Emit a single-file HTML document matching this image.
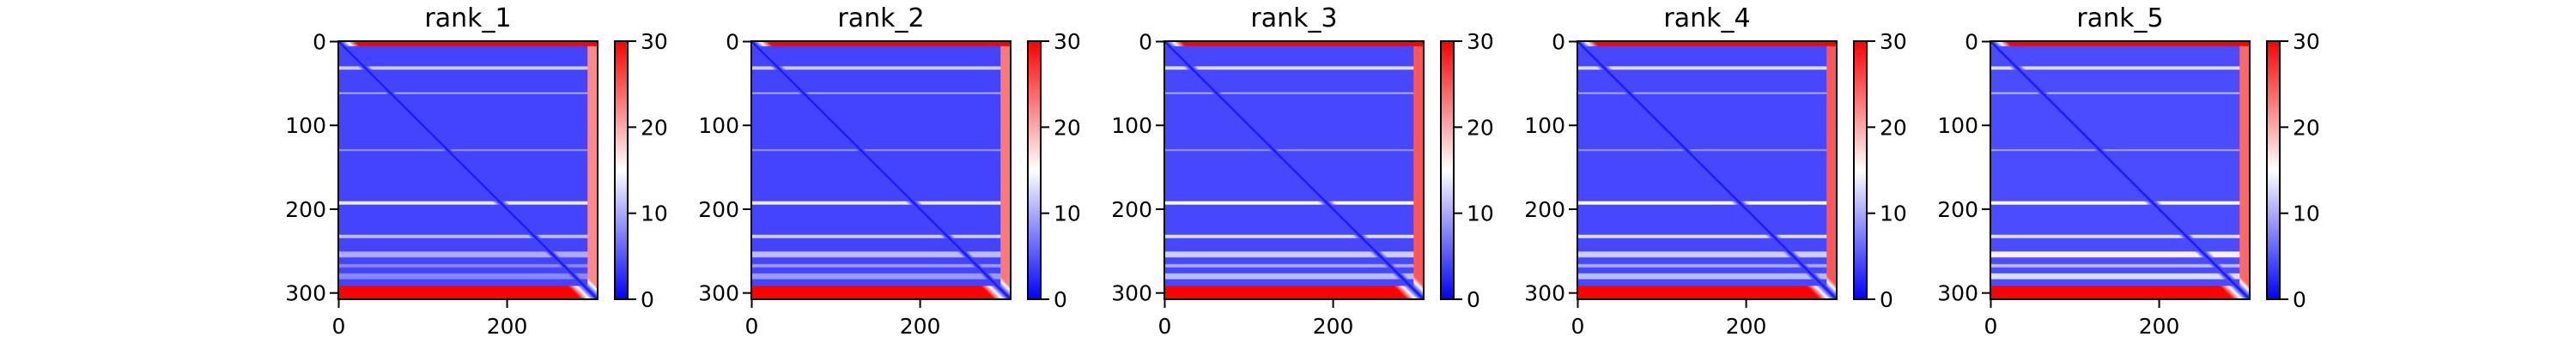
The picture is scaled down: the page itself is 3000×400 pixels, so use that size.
<!DOCTYPE html>
<html><head><meta charset="utf-8">
<style>
html,body{margin:0;padding:0;background:#fff;}
#root{position:relative;width:3000px;height:400px;overflow:hidden;font-family:"Liberation Sans","DejaVu Sans",sans-serif;}
svg text{font-family:"DejaVu Sans","Liberation Sans",sans-serif;}
canvas{position:absolute;image-rendering:auto;}
</style></head>
<body>
<div id="root">
<svg id="svg" width="3000" height="400" style="position:absolute;left:0;top:0"></svg>
</div>
<script>
// ---- data ----
const N = 308;
const ranks = ["rank_1","rank_2","rank_3","rank_4","rank_5"];
const xTicks = [0, 200];
const yTicks = [0, 100, 200, 300];
const cbTicks = [0, 10, 20, 30];
const baseErr = [4.0, 4.0, 4.2, 4.2, 4.4];
// horizontal stripes: row ranges and per-rank error values
const stripeStart = [0, 30, 61, 129, 191, 231, 251, 266, 277, 292];
const stripeEnd   = [5, 33, 62, 130, 194, 234, 257, 269, 283, 307];
const stripeVals1 = [30, 12, 10, 9, 14, 11, 10, 8, 8, 30];
const stripeVals2 = [30, 12, 10, 9, 14, 12, 11, 9, 9, 30];
const stripeVals3 = [30, 13, 10, 9, 15, 13, 12, 10, 11, 30];
const stripeVals4 = [30, 13, 10, 9, 15, 13, 12, 10, 11, 30];
const stripeVals5 = [30, 13, 11, 10, 15, 13, 16, 11, 13, 30];
const stripeVals = [stripeVals1, stripeVals2, stripeVals3, stripeVals4, stripeVals5];
// C-terminal column error per rank
const tailStart = 296;
const tailVals = [22, 23, 25, 25, 24];

// ---- layout ----
const panelLeft = [394, 875, 1356, 1837, 2318];
const imgW = 302, imgTop = 48, imgH = 301;
const cbOff = 322, cbW = 15;

function xScale(p, v){ return panelLeft[p] + (v + 0.5) * imgW / N; }
function yScale(v){ return imgTop + (v + 0.5) * imgH / N; }
function cbScale(v){ return imgTop + imgH - v / 30 * imgH; }

function bwr(v){
  let t = Math.max(0, Math.min(1, v / 30));
  if (t < 0.5){ const k = t / 0.5; return [Math.round(255*k), Math.round(255*k), 255]; }
  const k = (1 - t) / 0.5; return [255, Math.round(255*k), Math.round(255*k)];
}
function pae(p, i, j){
  let v = baseErr[p];
  for (let s = 0; s < stripeStart.length; s++){
    if (i >= stripeStart[s] && i <= stripeEnd[s]) v = Math.max(v, stripeVals[p][s]);
  }
  if (j >= tailStart && i > stripeEnd[0] && i < stripeStart[stripeStart.length-1]) v = Math.max(v, tailVals[p]);
  const d = Math.abs(i - j);
  v = Math.min(v, 0.5 + d * 1.5);
  return v;
}

const NS = "http://www.w3.org/2000/svg";
const svg = document.getElementById('svg');
const root = document.getElementById('root');
function mk(tag, attrs, parent){
  const e = document.createElementNS(NS, tag);
  for (const k in attrs) e.setAttribute(k, attrs[k]);
  (parent || svg).appendChild(e);
  return e;
}

const defs = mk('defs', {});
const grad = mk('linearGradient', {id:'cbg', x1:0, y1:1, x2:0, y2:0}, defs);
mk('stop', {offset:'0', 'stop-color':'rgb(0,0,255)'}, grad);
mk('stop', {offset:'0.5', 'stop-color':'rgb(255,255,255)'}, grad);
mk('stop', {offset:'1', 'stop-color':'rgb(255,0,0)'}, grad);

for (let p = 0; p < ranks.length; p++){
  const L = panelLeft[p];
  const cv = document.createElement('canvas');
  cv.width = N; cv.height = N;
  cv.style.left = L + 'px'; cv.style.top = imgTop + 'px';
  cv.style.width = imgW + 'px'; cv.style.height = imgH + 'px';
  
  
  const ctx = cv.getContext('2d');
  const im = ctx.createImageData(N, N);
  for (let i = 0; i < N; i++) for (let j = 0; j < N; j++){
    const c = bwr(pae(p, i, j)); const o = (i*N + j) * 4;
    im.data[o]=c[0]; im.data[o+1]=c[1]; im.data[o+2]=c[2]; im.data[o+3]=255;
  }
  ctx.putImageData(im, 0, 0);
  root.insertBefore(cv, svg);

  const g = mk('g', {});
  
  
  const t = mk('text', {x: L + imgW/2, y: 31, 'font-size': 30, 'text-anchor':'middle'}, g);
  t.textContent = ranks[p];
  
  
  const fr = mk('rect', {x: L, y: imgTop, width: imgW, height: imgH, fill:'none', stroke:'#000', 'stroke-width':2}, g);
  
  
  for (const v of yTicks){
    const y = yScale(v);
    mk('line', {x1: L-10, x2: L, y1: y, y2: y, stroke:'#000', 'stroke-width':2}, g);
    const tl = mk('text', {x: L-14, y: y+9, 'font-size': 25, 'text-anchor':'end'}, g);
    tl.textContent = v;
    
    
  }
  for (const v of xTicks){
    const x = xScale(p, v);
    mk('line', {x1: x, x2: x, y1: imgTop+imgH, y2: imgTop+imgH+10, stroke:'#000', 'stroke-width':2}, g);
    const tl = mk('text', {x: x, y: 389, 'font-size': 25, 'text-anchor':'middle'}, g);
    tl.textContent = v;
    
    
  }
  const cx = L + cbOff;
  const cb = mk('rect', {x: cx, y: imgTop, width: cbW, height: imgH, fill:'url(#cbg)', stroke:'#000', 'stroke-width':2}, g);
  
  
  for (const v of cbTicks){
    const y = cbScale(v);
    mk('line', {x1: cx+cbW, x2: cx+cbW+10, y1: y, y2: y, stroke:'#000', 'stroke-width':2}, g);
    const tl = mk('text', {x: cx+cbW+15, y: y+9, 'font-size': 25}, g);
    tl.textContent = v;
    
    
  }
}
</script>
</body></html>
